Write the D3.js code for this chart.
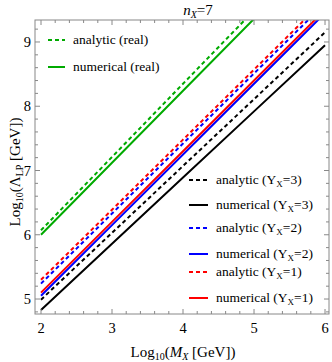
<!doctype html>
<html>
<head>
<meta charset="utf-8">
<script src="https://d3js.org/d3.v7.min.js"></script>
<style>
  body { margin: 0; background: #fff; }
  text { font-family: "Liberation Serif", "Times New Roman", serif; fill: #000; }
</style>
</head>
<body>
<svg id="chart" width="332" height="362"></svg>
<script>
// data: log10(M_X) and log10(Lambda_LP) per curve
const logM = [2, 3, 4, 5, 6];
const greenAnalytic  = [6.07, 7.21, 8.35, 9.49, 10.63];
const greenNumerical = [6.00, 7.12, 8.24, 9.36, 10.48];
const redAnalytic    = [5.30, 6.39, 7.48, 8.57, 9.66];
const blueAnalytic   = [5.24, 6.33, 7.42, 8.51, 9.60];
const redNumerical   = [5.10, 6.20, 7.30, 8.40, 9.50];
const blueNumerical  = [5.05, 6.15, 7.25, 8.35, 9.45];
const blackAnalytic  = [4.99, 6.03, 7.07, 8.11, 9.15];
const blackNumerical = [4.83, 5.86, 6.89, 7.92, 8.95];
const xTicks = [2, 3, 4, 5, 6];
const yTicks = [5, 6, 7, 8, 9];

const green = "#00aa00", red = "#ff0000", blue = "#0000ff", black = "#000000";

const series = [
  { v: greenAnalytic,  c: green, dash: true },
  { v: greenNumerical, c: green, dash: false },
  { v: blackAnalytic,  c: black, dash: true },
  { v: blackNumerical, c: black, dash: false },
  { v: blueAnalytic,   c: blue,  dash: true },
  { v: blueNumerical,  c: blue,  dash: false },
  { v: redAnalytic,    c: red,   dash: true },
  { v: redNumerical,   c: red,   dash: false }
];

const svg = d3.select("#chart");
const L = 35, R = 329, T = 20, B = 314;

const x = d3.scaleLinear().domain([1.9155, 6.056]).range([L, R]);
const y = d3.scaleLinear().domain([4.767, 9.342]).range([B, T]);

svg.append("clipPath").attr("id", "clip")
  .append("rect").attr("x", L).attr("y", T).attr("width", R - L).attr("height", B - T);

// curves
const line = d3.line().x((d, i) => x(logM[i])).y(d => y(d));
const plot = svg.append("g").attr("clip-path", "url(#clip)");
series.forEach(s => {
  plot.append("path")
    .attr("d", line(s.v))
    .attr("fill", "none")
    .attr("stroke", s.c)
    .attr("stroke-width", 2)
    .attr("stroke-dasharray", s.dash ? "4,3" : null);
});

// frame + ticks (Mathematica style, inside, all sides)
const frameCol = "#888";
svg.append("rect").attr("x", L).attr("y", T).attr("width", R - L).attr("height", B - T)
  .attr("fill", "none").attr("stroke", frameCol).attr("stroke-width", 1);

const minorX = d3.range(2, 6.05, 0.2).filter(v => v >= x.domain()[0] && v <= x.domain()[1]);
const minorY = d3.range(4.8, 9.35, 0.2).filter(v => v >= y.domain()[0] && v <= y.domain()[1]);
const tk = svg.append("g").attr("stroke", frameCol).attr("stroke-width", 1);
minorX.forEach(v => {
  const major = Math.abs(v - Math.round(v)) < 1e-6;
  const len = major ? 5 : 3;
  tk.append("line").attr("x1", x(v)).attr("x2", x(v)).attr("y1", B).attr("y2", B - len);
  tk.append("line").attr("x1", x(v)).attr("x2", x(v)).attr("y1", T).attr("y2", T + len);
});
minorY.forEach(v => {
  const major = Math.abs(v - Math.round(v)) < 1e-6;
  const len = major ? 5 : 3;
  tk.append("line").attr("y1", y(v)).attr("y2", y(v)).attr("x1", L).attr("x2", L + len);
  tk.append("line").attr("y1", y(v)).attr("y2", y(v)).attr("x1", R).attr("x2", R - len);
});

// tick labels
svg.append("g").selectAll("text").data(xTicks).join("text")
  .attr("x", d => x(d)).attr("y", 333)
  .attr("text-anchor", "middle").attr("font-size", 14.5)
  .text(d => d);
svg.append("g").selectAll("text").data(yTicks).join("text")
  .attr("x", 31).attr("y", d => y(d) + 5)
  .attr("text-anchor", "end").attr("font-size", 14.5)
  .text(d => d);

// axis titles
const xt = svg.append("text").attr("x", 183).attr("y", 357)
  .attr("text-anchor", "middle").attr("font-size", 15);
xt.append("tspan").text("Log");
xt.append("tspan").attr("font-size", 10).attr("dy", 3).text("10");
xt.append("tspan").attr("dy", -3).text("(");
xt.append("tspan").attr("font-style", "italic").text("M");
xt.append("tspan").attr("font-style", "italic").attr("font-size", 10).attr("dy", 3).text("X");
xt.append("tspan").attr("dy", -3).text(" [GeV])");

const yt = svg.append("text").attr("transform", "translate(20,172) rotate(-90)")
  .attr("text-anchor", "middle").attr("font-size", 15);
yt.append("tspan").text("Log");
yt.append("tspan").attr("font-size", 10).attr("dy", 3).text("10");
yt.append("tspan").attr("dy", -3).text("(Λ");
yt.append("tspan").attr("font-size", 10).attr("dy", 3).text("LP");
yt.append("tspan").attr("dy", -3).text(" [GeV])");

// title
const tt = svg.append("text").attr("x", 198).attr("y", 15)
  .attr("text-anchor", "middle").attr("font-size", 15);
tt.append("tspan").attr("font-style", "italic").text("n");
tt.append("tspan").attr("font-style", "italic").attr("font-size", 10).attr("dy", 3).text("X");
tt.append("tspan").attr("dy", -3).text("=7");

// legends
function legendItem(lx, ly, len, col, dash, label, sub, rest) {
  svg.append("line").attr("x1", lx).attr("x2", lx + len).attr("y1", ly).attr("y2", ly)
    .attr("stroke", col).attr("stroke-width", 2)
    .attr("stroke-dasharray", dash ? "4,3" : null);
  const t = svg.append("text").attr("x", lx + len + 8).attr("y", ly + 4).attr("font-size", 13.5);
  t.append("tspan").text(label);
  if (sub) {
    t.append("tspan").attr("font-size", 9).attr("dy", 3).text(sub);
    t.append("tspan").attr("dy", -3).text(rest);
  }
}
legendItem(48, 40, 17, green, true, "analytic (real)");
legendItem(48, 67, 17, green, false, "numerical (real)");

const lowLegend = [
  { yy: 180, c: black, dash: true,  name: "analytic", n: "3" },
  { yy: 205, c: black, dash: false, name: "numerical", n: "3" },
  { yy: 228, c: blue,  dash: true,  name: "analytic", n: "2" },
  { yy: 254, c: blue,  dash: false, name: "numerical", n: "2" },
  { yy: 272, c: red,   dash: true,  name: "analytic", n: "1" },
  { yy: 298, c: red,   dash: false, name: "numerical", n: "1" }
];
lowLegend.forEach(d => legendItem(189, d.yy, 19, d.c, d.dash, d.name + " (Y", "X", "=" + d.n + ")"));
</script>
</body>
</html>
